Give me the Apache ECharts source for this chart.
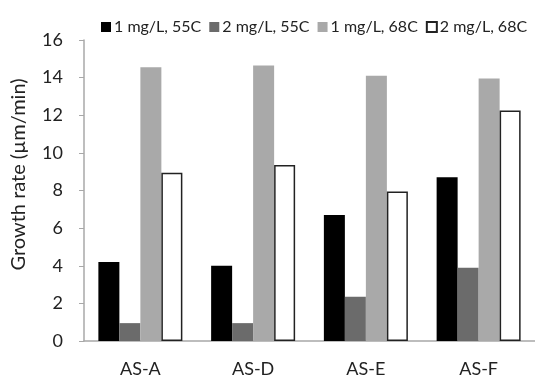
<!DOCTYPE html>
<html>
<head>
<meta charset="utf-8">
<script src="https://cdn.jsdelivr.net/npm/echarts@6/dist/echarts.min.js"></script>
<style>
  html, body {margin: 0; padding: 0; background: #fff;}
  #chart {width: 535px; height: 378px;}
</style>
</head>
<body>
<div id="chart"></div>
<script>
const categories = ['AS-A', 'AS-D', 'AS-E', 'AS-F'];
const seriesNames = ['1 mg/L, 55C', '2 mg/L, 55C', '1 mg/L, 68C', '2 mg/L, 68C'];
const low55 = [4.2, 4.0, 6.7, 8.7];
const high55 = [0.95, 0.95, 2.35, 3.9];
const low68 = [14.55, 14.65, 14.1, 13.95];
const high68 = [8.95, 9.35, 7.95, 12.25];

const font = 'Lato, "Open Sans", sans-serif';
const axisGrey = '#a8a8a8';

const chart = echarts.init(document.getElementById('chart'));

const barStyle = [
    {color: '#000000'},
    {color: '#6b6b6b'},
    {color: '#a9a9a9'},
    {color: '#ffffff', borderColor: '#222222', borderWidth: 1.5}
];

chart.setOption({
    animation: false,
    textStyle: {fontFamily: font, color: '#222'},
    legend: {
        left: 96,
        top: 14,
        width: 480,
        icon: 'rect',
        itemWidth: 10,
        itemHeight: 10,
        itemGap: 8,
        textStyle: {fontFamily: font, fontSize: 16, color: '#222', padding: [0, 0, 0, -2]},
        data: seriesNames
    },
    grid: {left: 84, top: 40, bottom: 36, width: 460},
    xAxis: {
        type: 'category',
        data: categories,
        axisLine: {lineStyle: {color: axisGrey, width: 1.5}},
        axisTick: {length: 5, lineStyle: {color: axisGrey}},
        axisLabel: {fontSize: 18, color: '#222', margin: 19, fontFamily: font}
    },
    yAxis: {
        type: 'value',
        min: 0,
        max: 16,
        interval: 2,
        name: 'Growth rate (\u00b5m/min)',
        nameLocation: 'middle',
        nameGap: 55,
        nameTextStyle: {fontSize: 20, color: '#222', fontFamily: font, padding: [0, 0, 0, 32]},
        splitLine: {show: false},
        axisLine: {show: true, lineStyle: {color: axisGrey, width: 1.5}},
        axisTick: {show: true, length: 5, lineStyle: {color: axisGrey}},
        axisLabel: {fontSize: 18, color: '#222', margin: 21, fontFamily: font}
    },
    series: [low55, high55, low68, high68].map((d, i) => ({
        name: seriesNames[i],
        type: 'bar',
        barWidth: 21,
        barGap: '0%',
        itemStyle: barStyle[i],
        data: d
    }))
});
</script>
</body>
</html>
